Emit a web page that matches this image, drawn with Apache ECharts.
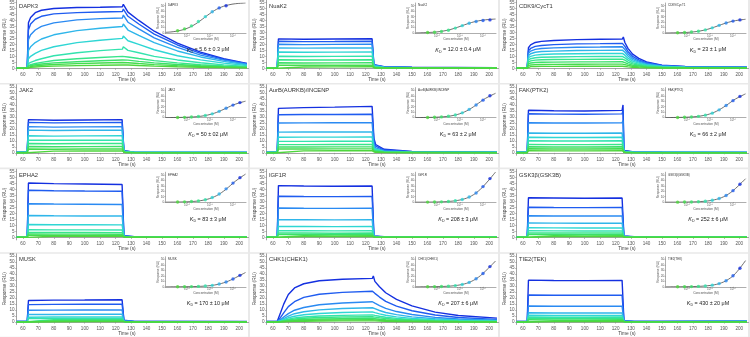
<!DOCTYPE html>
<html>
<head>
<meta charset="utf-8">
<script src="https://cdn.jsdelivr.net/npm/echarts@6.0.0/dist/echarts.min.js"></script>
<style>
html,body{margin:0;padding:0;background:#fff;}
#chart{width:750px;height:337px;}
</style>
</head>
<body>
<div id="chart"></div>
<script>
// ---- axis ticks ----
const X_TICKS = [60, 70, 80, 90, 100, 110, 120, 130, 140, 150, 160, 170, 180, 190, 200];
const Y_TICKS = [0, 5, 10, 15, 20, 25, 30, 35, 40, 45, 50, 55];
const INSET_Y_TICKS = [0, 10, 20, 30, 40, 50];
const INSET_X_TICKS = [1e-6, 1e-5, 1e-4];

// ---- sensorgram time bases (s) ----
const T_SQUARE = [56, 62.8, 63.6, 80, 100, 124.2, 124.8, 125.4, 126.5, 132, 150, 205];
const T_DAPK3 = [56, 62.8, 63.6, 65, 68, 72, 80, 95, 110, 124.4, 125, 128, 135, 145, 160, 175, 190, 205];
const T_CDK9 = [56, 62.8, 63.6, 65, 68, 72, 80, 95, 110, 124.4, 125, 126, 128, 131, 135, 140, 150, 165, 205];
const T_CHK1 = [56, 62.8, 63.6, 65, 67, 70, 74, 80, 90, 105, 124.4, 125, 126, 129, 133, 140, 150, 165, 180, 205];

// ---- sensorgram responses (RU), highest concentration first ----
const DAPK3_RU = [
  [0.5,0.5,38,42.5,46.5,48.5,50,50.8,51,51.5,53.5,47,40,31,21,13.5,8,4],
  [0.5,0.5,32,37,41,43.5,45.5,46.5,47,47.5,49.5,43.5,37,28.5,19.5,12.5,7.5,3.8],
  [0.3,0.3,24,28,32,35,38,40.5,41.5,42,44.5,38.5,33,25.5,17.5,11,6.8,3.5],
  [0.3,0.3,15,18,21.5,24.5,28,31.5,33.5,35,37,32,27.5,21.5,14.5,9.5,5.8,3],
  [0.2,0.2,8,10,12.5,15,18,21.5,23.5,25,27,23,20,15.5,10.5,7,4.3,2.3],
  [0.2,0.2,4,5,6.5,8,10.5,13,14.8,16,18,15,13,10,7,4.6,2.9,1.6],
  [0.1,0.1,2.5,3,4,5,6.5,8,9,10,11.5,9.5,8.2,6.4,4.5,3,1.9,1.1],
  [0,0,1.8,2.2,3,3.6,4.5,5.5,6.3,7,8.5,6.8,5.8,4.5,3.2,2.1,1.3,0.8],
  [0,0,1.2,1.5,2,2.5,3.2,3.9,4.4,4.8,6,4.7,4,3.1,2.2,1.5,1,0.6],
  [0,0,0.6,0.8,1.1,1.4,1.8,2.2,2.5,2.8,3.8,2.8,2.3,1.8,1.3,0.9,0.6,0.4]
];
const NUAK2_RU = [
  [0.4,0.4,24.6,24.3,24.5,24.7,25.2,3.0,2.0,1.3,0.9,0.6],
  [0.4,0.4,22.6,22.3,22.4,22.6,23.0,2.8,1.8,1.2,0.8,0.5],
  [0.3,0.3,20.1,19.8,20.0,20.1,20.5,2.5,1.6,1.1,0.7,0.5],
  [0.3,0.3,17.1,16.9,17.0,17.1,17.5,2.1,1.4,0.9,0.6,0.4],
  [0.3,0.3,13.6,13.4,13.5,13.6,14.0,1.7,1.1,0.8,0.5,0.4],
  [0.2,0.2,10.1,9.9,10.0,10.1,10.5,1.3,0.9,0.6,0.4,0.3],
  [0.2,0.2,7.1,6.9,7.0,7.1,7.5,1.0,0.7,0.5,0.3,0.3],
  [0.2,0.2,4.6,4.4,4.5,4.6,5.0,0.7,0.5,0.4,0.3,0.2],
  [0.1,0.1,2.7,2.5,2.6,2.7,3.1,0.5,0.4,0.3,0.2,0.2],
  [0.1,0.1,1.3,1.1,1.2,1.3,1.7,0.3,0.3,0.2,0.2,0.1]
];
const CDK9_RU = [
  [0.5,0.5,17.2,19.6,21.6,22.5,23.3,24.0,24.3,24.5,26.2,21.6,16.7,11.8,8.3,5.4,2.7,1.6,1.0],
  [0.5,0.5,14.6,16.6,18.3,19.1,19.8,20.4,20.6,20.8,22.0,18.3,14.1,10.0,7.1,4.6,2.3,1.4,0.9],
  [0.4,0.4,12.6,14.4,15.8,16.6,17.1,17.6,17.8,18.0,19.0,15.8,12.2,8.6,6.1,4.0,2.0,1.2,0.8],
  [0.4,0.4,10.6,12.2,13.4,14.0,14.4,14.9,15.0,15.2,16.1,13.4,10.3,7.3,5.2,3.3,1.7,1.0,0.7],
  [0.3,0.3,8.8,10.0,11.0,11.5,11.9,12.2,12.4,12.5,13.3,11.0,8.5,6.0,4.3,2.8,1.4,0.9,0.6],
  [0.3,0.3,7.0,8.0,8.8,9.2,9.5,9.8,9.9,10.0,10.7,8.8,6.8,4.8,3.4,2.2,1.1,0.7,0.5],
  [0.3,0.3,5.4,6.2,6.8,7.1,7.3,7.5,7.6,7.7,8.4,6.8,5.2,3.7,2.6,1.7,0.9,0.6,0.5],
  [0.2,0.2,3.9,4.4,4.8,5.1,5.2,5.4,5.4,5.5,6.2,4.8,3.7,2.6,1.9,1.2,0.7,0.5,0.4],
  [0.2,0.2,2.5,2.8,3.1,3.2,3.3,3.4,3.5,3.5,4.2,3.1,2.4,1.7,1.2,0.8,0.5,0.4,0.3],
  [0.1,0.1,1.2,1.4,1.5,1.6,1.6,1.7,1.7,1.7,2.4,1.5,1.2,0.8,0.6,0.4,0.3,0.2,0.2]
];
const JAK2_RU = [
  [0.6,0.6,27.8,27.3,27.5,27.8,28.3,1.8,1.0,0.6,0.4,0.4],
  [0.5,0.5,25.5,25.1,25.3,25.5,26.0,1.6,0.9,0.5,0.4,0.4],
  [0.5,0.5,21.9,21.5,21.7,21.9,22.3,1.4,0.8,0.5,0.4,0.3],
  [0.4,0.4,19.0,18.7,18.9,19.0,19.4,1.2,0.7,0.4,0.3,0.3],
  [0.4,0.4,14.3,14.0,14.2,14.3,14.7,1.0,0.6,0.4,0.3,0.3],
  [0.3,0.3,10.7,10.5,10.6,10.7,11.1,0.8,0.5,0.3,0.3,0.2],
  [0.3,0.3,7.9,7.7,7.8,7.9,8.3,0.6,0.4,0.3,0.2,0.2],
  [0.2,0.2,5.3,5.1,5.2,5.3,5.7,0.5,0.3,0.2,0.2,0.2],
  [0.2,0.2,3.3,3.1,3.2,3.3,3.7,0.4,0.3,0.2,0.2,0.1],
  [0.1,0.1,1.7,1.5,1.6,1.7,2.1,0.3,0.2,0.2,0.1,0.1]
];
const AURB_RU = [
  [0.5,0.5,37.2,37.8,38.2,38.8,39.6,12.0,7.0,3.0,1.2,0.5],
  [0.5,0.5,31.8,32.0,32.1,32.3,33.0,9.5,5.6,2.4,1.0,0.5],
  [0.4,0.4,25.0,25.1,25.2,25.3,25.9,7.2,4.2,1.9,0.8,0.4],
  [0.4,0.4,17.3,17.4,17.4,17.5,18.0,5.0,2.9,1.3,0.6,0.4],
  [0.3,0.3,13.1,13.2,13.2,13.3,13.8,3.8,2.2,1.0,0.5,0.3],
  [0.3,0.3,9.6,9.6,9.7,9.7,10.2,2.8,1.6,0.8,0.4,0.3],
  [0.3,0.3,6.9,6.9,7.0,7.0,7.5,2.0,1.2,0.6,0.4,0.3],
  [0.2,0.2,4.9,4.9,5.0,5.0,5.5,1.5,0.9,0.5,0.3,0.2],
  [0.2,0.2,3.3,3.3,3.4,3.4,3.9,1.0,0.6,0.4,0.3,0.2],
  [0.1,0.1,1.7,1.7,1.8,1.8,2.3,0.6,0.4,0.3,0.2,0.1]
];
const FAK_RU = [
  [0.6,0.6,35.6,35.2,35.0,35.5,40.0,2.0,1.2,0.7,0.5,0.4],
  [0.5,0.5,32.7,32.4,32.3,32.6,35.5,1.8,1.1,0.6,0.5,0.4],
  [0.5,0.5,25.2,24.9,24.9,25.1,27.0,1.5,0.9,0.5,0.4,0.3],
  [0.4,0.4,16.6,16.4,16.4,16.6,18.0,1.1,0.7,0.4,0.3,0.3],
  [0.4,0.4,13.1,12.9,12.9,13.1,14.2,0.9,0.6,0.4,0.3,0.3],
  [0.3,0.3,10.1,9.9,9.9,10.1,11.0,0.7,0.5,0.3,0.3,0.2],
  [0.3,0.3,7.1,6.9,6.9,7.1,7.9,0.6,0.4,0.3,0.2,0.2],
  [0.2,0.2,5.1,4.9,4.9,5.1,5.8,0.5,0.3,0.2,0.2,0.2],
  [0.2,0.2,3.5,3.3,3.3,3.5,4.1,0.4,0.3,0.2,0.2,0.1],
  [0.1,0.1,1.9,1.7,1.7,1.9,2.4,0.3,0.2,0.2,0.1,0.1]
];
const EPHA2_RU = [
  [0.6,0.6,45.5,45.0,44.6,44.2,44.5,1.5,1.0,0.7,0.6,0.5],
  [0.5,0.5,39.4,39.0,38.8,38.6,38.8,1.3,0.9,0.6,0.5,0.5],
  [0.5,0.5,28.2,27.9,27.8,27.6,27.8,1.1,0.8,0.5,0.5,0.4],
  [0.4,0.4,18.3,18.1,18.0,17.9,18.1,0.9,0.6,0.5,0.4,0.4],
  [0.4,0.4,10.8,10.7,10.6,10.5,10.7,0.7,0.5,0.4,0.4,0.3],
  [0.3,0.3,6.5,6.4,6.4,6.3,6.5,0.6,0.4,0.3,0.3,0.3],
  [0.3,0.3,4.3,4.2,4.2,4.1,4.3,0.5,0.4,0.3,0.3,0.2],
  [0.2,0.2,2.9,2.8,2.8,2.7,2.9,0.4,0.3,0.3,0.2,0.2],
  [0.2,0.2,1.9,1.8,1.8,1.7,1.9,0.3,0.3,0.2,0.2,0.2],
  [0.1,0.1,1.1,1.0,1.0,0.9,1.1,0.2,0.2,0.2,0.1,0.1]
];
const IGF1R_RU = [
  [0.6,0.6,43.3,43.0,42.8,43.0,43.4,1.2,0.8,0.6,0.5,0.5],
  [0.5,0.5,34.4,34.2,34.1,34.2,34.6,1.0,0.7,0.5,0.5,0.4],
  [0.5,0.5,24.6,24.4,24.3,24.4,24.8,0.9,0.6,0.5,0.4,0.4],
  [0.4,0.4,14.9,14.8,14.7,14.8,15.1,0.7,0.5,0.4,0.4,0.3],
  [0.4,0.4,9.3,9.2,9.1,9.2,9.5,0.6,0.4,0.4,0.3,0.3],
  [0.3,0.3,5.7,5.6,5.5,5.6,5.9,0.5,0.4,0.3,0.3,0.3],
  [0.3,0.3,3.8,3.7,3.6,3.7,4.0,0.4,0.3,0.3,0.2,0.2],
  [0.2,0.2,2.6,2.5,2.4,2.5,2.8,0.3,0.3,0.2,0.2,0.2],
  [0.2,0.2,1.6,1.5,1.4,1.5,1.8,0.3,0.2,0.2,0.2,0.1],
  [0.1,0.1,0.9,0.8,0.7,0.8,1.1,0.2,0.2,0.1,0.1,0.1]
];
const GSK3B_RU = [
  [0.6,0.6,33.2,33.0,32.8,33.0,33.5,1.2,0.8,0.6,0.5,0.5],
  [0.5,0.5,25.2,25.0,24.9,25.0,25.4,1.0,0.7,0.5,0.5,0.4],
  [0.5,0.5,18.1,18.0,17.9,18.0,18.4,0.9,0.6,0.5,0.4,0.4],
  [0.4,0.4,12.1,12.0,11.9,12.0,12.4,0.7,0.5,0.4,0.4,0.3],
  [0.4,0.4,8.1,8.0,7.9,8.0,8.4,0.6,0.4,0.4,0.3,0.3],
  [0.3,0.3,5.6,5.5,5.4,5.5,5.9,0.5,0.4,0.3,0.3,0.3],
  [0.3,0.3,3.9,3.8,3.7,3.8,4.2,0.4,0.3,0.3,0.2,0.2],
  [0.2,0.2,2.6,2.5,2.4,2.5,2.9,0.3,0.3,0.2,0.2,0.2],
  [0.2,0.2,1.6,1.5,1.4,1.5,1.9,0.3,0.2,0.2,0.2,0.1],
  [0.1,0.1,0.9,0.8,0.7,0.8,1.2,0.2,0.2,0.1,0.1,0.1]
];
const MUSK_RU = [
  [0.6,0.6,18.0,18.3,18.4,18.6,20.0,1.5,0.9,0.6,0.5,0.5],
  [0.5,0.5,14.6,14.8,14.9,15.0,16.0,1.3,0.8,0.5,0.5,0.4],
  [0.5,0.5,9.9,10.0,10.1,10.2,11.0,1.0,0.6,0.5,0.4,0.4],
  [0.4,0.4,6.3,6.4,6.5,6.5,7.2,0.8,0.5,0.4,0.4,0.3],
  [0.4,0.4,4.1,4.2,4.3,4.3,4.9,0.6,0.4,0.4,0.3,0.3],
  [0.3,0.3,2.9,3.0,3.1,3.1,3.6,0.5,0.4,0.3,0.3,0.3],
  [0.3,0.3,1.9,2.0,2.1,2.1,2.6,0.4,0.3,0.3,0.3,0.2],
  [0.2,0.2,1.1,1.2,1.3,1.3,1.8,0.3,0.3,0.2,0.2,0.2],
  [0.2,0.2,0.6,0.7,0.8,0.8,1.2,0.3,0.2,0.2,0.2,0.2],
  [0.1,0.1,0.3,0.3,0.4,0.4,0.8,0.2,0.2,0.1,0.1,0.1]
];
const CHK1_RU = [
  [0.5,0.5,2,8,15,23,28.5,32,34.5,35.8,36.5,38.5,34,29.5,24.5,19,13.5,8.3,5.5,3.3],
  [0.5,0.5,1,3.9,7.7,12.9,17,20.6,23.2,24.8,25.8,27.3,24,20.9,17.3,13.4,9.5,5.9,3.9,2.3],
  [0.4,0.4,0.7,2,4.3,7.1,9.9,12.2,14.5,16,17,18.3,15.8,13.8,11.4,8.8,6.3,3.9,2.6,1.5],
  [0.4,0.4,0.5,1.4,3,5,7,8.6,10.2,11.3,12,13.2,11.2,9.7,8,6.2,4.4,2.8,1.8,1.1],
  [0.3,0.3,0.4,1,2.1,3.6,4.9,6.1,7.2,8,8.5,9.6,7.9,6.9,5.7,4.4,3.1,2,1.3,0.8],
  [0.3,0.3,0.3,0.7,1.5,2.5,3.5,4.3,5.1,5.6,6,7,5.6,4.9,4,3.1,2.2,1.4,0.9,0.6],
  [0.2,0.2,0.3,0.6,1.1,1.9,2.6,3.2,3.8,4.2,4.5,5.4,4.2,3.6,3,2.3,1.7,1,0.7,0.5],
  [0.2,0.2,0.2,0.4,0.8,1.3,1.7,2.2,2.6,2.8,3,3.9,2.8,2.4,2,1.6,1.1,0.7,0.5,0.3],
  [0.1,0.1,0.2,0.3,0.5,0.8,1.2,1.4,1.7,1.9,2,2.9,1.9,1.6,1.3,1,0.7,0.5,0.3,0.2],
  [0.1,0.1,0.1,0.2,0.3,0.4,0.6,0.7,0.9,1,1,1.8,1,0.8,0.7,0.5,0.4,0.3,0.2,0.1]
];
const TIE2_RU = [
  [0.5,0.5,35.0,34.7,34.6,34.8,35.2,1.2,0.8,0.6,0.6,0.8],
  [0.5,0.5,22.6,22.4,22.4,22.5,22.9,1.0,0.7,0.5,0.5,0.7],
  [0.4,0.4,13.4,13.2,13.2,13.3,13.7,0.8,0.6,0.5,0.5,0.6],
  [0.4,0.4,7.8,7.6,7.6,7.7,8.1,0.7,0.5,0.4,0.4,0.5],
  [0.3,0.3,5.7,5.5,5.5,5.6,6.0,0.6,0.4,0.4,0.4,0.5],
  [0.3,0.3,4.3,4.1,4.1,4.2,4.6,0.5,0.4,0.3,0.3,0.4],
  [0.3,0.3,3.1,2.9,2.9,3.0,3.4,0.4,0.3,0.3,0.3,0.4],
  [0.2,0.2,2.1,1.9,1.9,2.0,2.4,0.3,0.3,0.3,0.3,0.3],
  [0.2,0.2,1.3,1.1,1.1,1.2,1.6,0.3,0.2,0.2,0.2,0.3],
  [0.1,0.1,0.6,0.4,0.4,0.5,0.9,0.2,0.2,0.2,0.2,0.2]
];

// ---- steady-state insets: concentration (M) vs response (RU) ----
const CONC_8 = [3.9e-7, 7.8e-7, 1.56e-6, 3.13e-6, 6.25e-6, 1.25e-5, 2.5e-5, 5e-5];
const CONC_10 = [3.9e-7, 7.8e-7, 1.56e-6, 3.13e-6, 6.25e-6, 1.25e-5, 2.5e-5, 5e-5, 1e-4, 2e-4];
const FIT_CONC = [1.2e-7, 2.5e-7, 5e-7, 1e-6, 2e-6, 4e-6, 8e-6, 1.6e-5, 3.2e-5, 6.4e-5, 1.28e-4, 3.5e-4];

const DAPK3_SS = [4, 7.5, 13, 21, 30, 39, 46, 50];
const DAPK3_FIT = [1.2, 2.4, 4.6, 8.5, 14.7, 23.3, 32.9, 41.5, 47.7, 51.5, 53.7, 55.1];
const NUAK2_SS = [0.8, 1.5, 2.8, 5, 9, 13.5, 18, 21, 23, 24];
const NUAK2_FIT = [0.26, 0.54, 1.06, 2.04, 3.8, 6.6, 10.6, 15.1, 19.3, 22.3, 24.2, 25.6];
const CDK9_SS = [0.45, 0.9, 1.7, 3.2, 5.7, 9.4, 14, 18.4, 21.8, 24];
const CDK9_FIT = [0.14, 0.29, 0.57, 1.1, 2.1, 4, 6.9, 11, 15.6, 19.7, 22.7, 25.1];
const JAK2_SS = [0.3, 0.5, 1, 2, 3.8, 6.9, 11.5, 17.2, 22.9, 27.5];
const JAK2_FIT = [0.08, 0.17, 0.34, 0.67, 1.3, 2.5, 4.7, 8.3, 13.4, 19.3, 24.7, 30.1];
const AURB_SS = [0.3, 0.6, 1.3, 2.5, 4.7, 8.7, 15, 23, 32, 40];
const AURB_FIT = [0.1, 0.2, 0.4, 0.8, 1.6, 3.1, 5.9, 10.6, 17.6, 26.5, 35.2, 44.5];
const FAK_SS = [0.3, 0.6, 1.2, 2.3, 4.5, 8.2, 14.2, 22.3, 31.1, 38.9];
const FAK_FIT = [0.09, 0.2, 0.39, 0.77, 1.5, 3, 5.6, 10.1, 16.9, 25.4, 34.1, 43.5];
const EPHA2_SS = [0.3, 0.6, 1.2, 2.4, 4.6, 8.5, 15, 24.5, 35, 45];
const EPHA2_FIT = [0.09, 0.19, 0.38, 0.76, 1.5, 2.9, 5.6, 10.3, 17.7, 27.7, 38.6, 51.5];
const IGF1R_SS = [0.16, 0.33, 0.66, 1.3, 2.6, 5, 9.4, 17, 28.6, 43.3];
const IGF1R_FIT = [0.05, 0.1, 0.21, 0.42, 0.84, 1.7, 3.3, 6.3, 11.7, 20.7, 33.5, 55.2];
const GSK3B_SS = [0.12, 0.23, 0.46, 0.92, 1.8, 3.5, 6.7, 12.3, 21.2, 33];
const GSK3B_FIT = [0.04, 0.07, 0.15, 0.3, 0.6, 1.2, 2.3, 4.5, 8.4, 15.1, 25.1, 43];
const MUSK_SS = [0.09, 0.18, 0.35, 0.7, 1.4, 2.7, 5, 8.8, 14.4, 21];
const MUSK_FIT = [0.03, 0.06, 0.11, 0.23, 0.45, 0.9, 1.75, 3.3, 6.2, 10.6, 16.7, 26.2];
const CHK1_SS = [0.14, 0.28, 0.56, 1.1, 2.2, 4.3, 8.1, 14.7, 24.5, 37];
const CHK1_FIT = [0.04, 0.09, 0.18, 0.36, 0.72, 1.4, 2.8, 5.4, 10.1, 17.8, 28.8, 47.3];
const TIE2_SS = [0.1, 0.19, 0.39, 0.77, 1.5, 3, 5.9, 11.1, 20.2, 34];
const TIE2_FIT = [0.03, 0.06, 0.12, 0.25, 0.5, 1, 2, 3.8, 7.4, 13.9, 24.5, 48];

// ---- panel titles and fitted affinities ----
const TITLES = ['DAPK3', 'NuaK2', 'CDK9/CycT1', 'JAK2', 'AurB(AURKB)/INCENP', 'FAK(PTK2)',
  'EPHA2', 'IGF1R', 'GSK3\u03B2(GSK3B)', 'MUSK', 'CHK1(CHEK1)', 'TIE2(TEK)'];
const KD_TEXT = ['5.6 \u00B1 0.3 \u03BCM', '12.0 \u00B1 0.4 \u03BCM', '23 \u00B1 1 \u03BCM', '50 \u00B1 02 \u03BCM',
  '63 \u00B1 2 \u03BCM', '66 \u00B1 2 \u03BCM', '83 \u00B1 3 \u03BCM', '208 \u00B1 3 \u03BCM',
  '252 \u00B1 6 \u03BCM', '170 \u00B1 10 \u03BCM', '207 \u00B1 6 \u03BCM', '430 \u00B1 20 \u03BCM'];

const PANELS = [
  { t: T_DAPK3, ru: DAPK3_RU, conc: CONC_8, ss: DAPK3_SS, fit: DAPK3_FIT },
  { t: T_SQUARE, ru: NUAK2_RU, conc: CONC_10, ss: NUAK2_SS, fit: NUAK2_FIT },
  { t: T_CDK9, ru: CDK9_RU, conc: CONC_10, ss: CDK9_SS, fit: CDK9_FIT },
  { t: T_SQUARE, ru: JAK2_RU, conc: CONC_10, ss: JAK2_SS, fit: JAK2_FIT },
  { t: T_SQUARE, ru: AURB_RU, conc: CONC_10, ss: AURB_SS, fit: AURB_FIT },
  { t: T_SQUARE, ru: FAK_RU, conc: CONC_10, ss: FAK_SS, fit: FAK_FIT },
  { t: T_SQUARE, ru: EPHA2_RU, conc: CONC_10, ss: EPHA2_SS, fit: EPHA2_FIT },
  { t: T_SQUARE, ru: IGF1R_RU, conc: CONC_10, ss: IGF1R_SS, fit: IGF1R_FIT },
  { t: T_SQUARE, ru: GSK3B_RU, conc: CONC_10, ss: GSK3B_SS, fit: GSK3B_FIT },
  { t: T_SQUARE, ru: MUSK_RU, conc: CONC_10, ss: MUSK_SS, fit: MUSK_FIT },
  { t: T_CHK1, ru: CHK1_RU, conc: CONC_10, ss: CHK1_SS, fit: CHK1_FIT },
  { t: T_SQUARE, ru: TIE2_RU, conc: CONC_10, ss: TIE2_SS, fit: TIE2_FIT }
];

// blue (high concentration) through cyan to green (low concentration)
const RAMP = ['#1430e0', '#1f5cf0', '#2a8af2', '#2fb6ea', '#2fd6d4', '#33e3ae', '#37e58a', '#3ce06a', '#44dc4e', '#4ed63c'];
function rampColor(i, n) { return RAMP[Math.round(i * (RAMP.length - 1) / Math.max(1, n - 1))]; }

const FONT = 'Liberation Sans';
const COL_W = 250, ROW_H = 84.6;
const SUP = { '-7': '10\u207B\u2077', '-6': '10\u207B\u2076', '-5': '10\u207B\u2075', '-4': '10\u207B\u2074' };

const grid = [], xAxis = [], yAxis = [], series = [];
const graphic = [{ type: 'rect', z: -20, shape: { x: 0, y: 0, width: 750, height: 337 }, style: { fill: '#e9e9e9' } }];
const axisGray = '#8a8a8a';

PANELS.forEach((p, k) => {
  const ox = (k % 3) * COL_W, oy = Math.floor(k / 3) * ROW_H;
  graphic.push({ type: 'rect', z: -10, shape: { x: ox, y: oy, width: 248, height: 83 }, style: { fill: '#ffffff' } });

  // sensorgram axes
  const g = grid.length;
  grid.push({ left: ox + 16.7, top: oy, width: 231.8, height: 70.7 });
  xAxis.push({
    gridIndex: g, type: 'value', min: 56, max: 206,
    axisLine: { lineStyle: { color: axisGray, width: 0.8 } },
    axisTick: { customValues: X_TICKS, length: 1.5, lineStyle: { color: axisGray, width: 0.6 } },
    axisLabel: { customValues: X_TICKS, fontSize: 4.6, color: '#555', margin: 1.8, fontFamily: FONT },
    splitLine: { show: false }
  });
  yAxis.push({
    gridIndex: g, type: 'value', min: -2, max: 57,
    axisLine: { show: true, lineStyle: { color: axisGray, width: 0.8 } },
    axisTick: { show: true, customValues: Y_TICKS, length: 1.5, lineStyle: { color: axisGray, width: 0.6 } },
    axisLabel: { customValues: Y_TICKS, fontSize: 4.6, color: '#555', margin: 2.2, fontFamily: FONT },
    splitLine: { show: false }
  });
  const n = p.ru.length;
  p.ru.forEach((vals, i) => {
    series.push({
      type: 'line', xAxisIndex: g, yAxisIndex: g, z: 2, silent: true, showSymbol: false,
      data: p.t.map((t, j) => [t, vals[j]]),
      lineStyle: { width: 1.4, color: rampColor(i, n) }
    });
  });

  // dose-response inset
  const gi = grid.length;
  grid.push({ left: ox + 165.5, top: oy + 3, width: 80.5, height: 30 });
  xAxis.push({
    gridIndex: gi, type: 'log', logBase: 10, min: 1.16e-7, max: 3.67e-4, z: 4,
    axisLine: { lineStyle: { color: '#777', width: 0.6 } },
    axisTick: { customValues: INSET_X_TICKS, length: 1, lineStyle: { color: '#777', width: 0.5 } },
    axisLabel: {
      customValues: INSET_X_TICKS, fontSize: 3.2, color: '#555', margin: 1.2, fontFamily: FONT,
      formatter: v => SUP[String(Math.round(Math.log10(v)))] || ''
    },
    splitLine: { show: false }, minorTick: { show: false }
  });
  yAxis.push({
    gridIndex: gi, type: 'value', min: 0, max: 55, z: 4,
    axisLine: { show: true, lineStyle: { color: '#777', width: 0.6 } },
    axisTick: { show: true, customValues: INSET_Y_TICKS, length: 1, lineStyle: { color: '#777', width: 0.5 } },
    axisLabel: { customValues: INSET_Y_TICKS, fontSize: 3.2, color: '#555', margin: 1.2, fontFamily: FONT },
    splitLine: { show: false }
  });
  series.push({
    type: 'line', xAxisIndex: gi, yAxisIndex: gi, z: 5, silent: true, showSymbol: false, smooth: 0.4,
    data: FIT_CONC.map((c, j) => [c, p.fit[j]]),
    lineStyle: { width: 0.8, color: '#4a4a4a' }
  });
  const m = p.conc.length;
  series.push({
    type: 'scatter', xAxisIndex: gi, yAxisIndex: gi, z: 6, silent: true, symbolSize: 3.4,
    data: p.conc.map((c, j) => ({ value: [c, p.ss[j]], itemStyle: { color: rampColor(m - 1 - j, m) } }))
  });

  // texts
  const txt = (x, y, text, size, extra) => ({
    type: 'text', z: 7, x: ox + x, y: oy + y,
    style: Object.assign({ text, fontSize: size, fill: '#333', fontFamily: FONT, align: 'center', verticalAlign: 'middle' }, extra || {})
  });
  graphic.push(txt(19, 6, TITLES[k], 5.8, { align: 'left' }));
  graphic.push(txt(127, 79.8, 'Time (s)', 4.8, { fill: '#444' }));
  graphic.push(Object.assign(txt(5, 35, 'Response (RU)', 4.8, { fill: '#444' }), { rotation: Math.PI / 2 }));
  graphic.push(txt(168, 5.5, TITLES[k], 3, { align: 'left' }));
  graphic.push(txt(206, 39.6, 'Concentration (M)', 3.2, { fill: '#555' }));
  graphic.push(Object.assign(txt(158.5, 18, 'Response (RU)', 3.2, { fill: '#555' }), { rotation: Math.PI / 2 }));
  graphic.push({
    type: 'text', z: 7, x: ox + 208, y: oy + 50,
    style: {
      text: '{k|K}{d|D}{v| = ' + KD_TEXT[k] + '}', align: 'center', verticalAlign: 'middle', fontFamily: FONT,
      rich: {
        k: { fontSize: 5.4, fontStyle: 'italic', fill: '#222', fontFamily: FONT, verticalAlign: 'bottom' },
        d: { fontSize: 3.6, fill: '#222', fontFamily: FONT, verticalAlign: 'bottom', padding: [0, 0, -1, 0] },
        v: { fontSize: 5.4, fill: '#222', fontFamily: FONT, verticalAlign: 'bottom' }
      }
    }
  });
});

const chart = echarts.init(document.getElementById('chart'), null, { renderer: 'canvas' });
chart.setOption({ animation: false, backgroundColor: '#ffffff', grid, xAxis, yAxis, series, graphic });
</script>
</body>
</html>
